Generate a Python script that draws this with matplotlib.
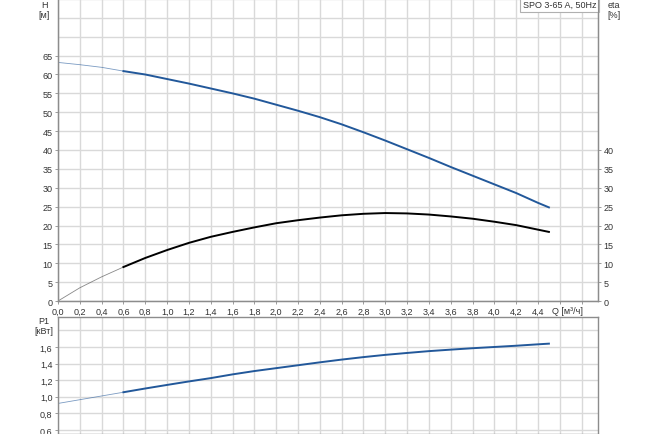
import numpy as np
import matplotlib
matplotlib.use('Agg')
import matplotlib.pyplot as plt

plt.rcParams['font.family'] = ['Liberation Sans', 'DejaVu Sans']

# ============================================================
# Data (Q in m3/h)
# ============================================================
q = [0.0, 0.2, 0.4, 0.6, 0.8, 1.0, 1.2, 1.4, 1.6, 1.8, 2.0, 2.2,
     2.4, 2.6, 2.8, 3.0, 3.2, 3.4, 3.6, 3.8, 4.0, 4.2, 4.4, 4.5]
head = [63.2, 62.6, 61.9, 60.9, 60.0, 58.8, 57.6, 56.3, 55.0, 53.6, 52.0, 50.4,
        48.7, 46.8, 44.7, 42.5, 40.2, 37.9, 35.5, 33.2, 30.9, 28.6, 26.0, 24.8]
eta = [0.0, 3.5, 6.4, 9.0, 11.4, 13.5, 15.4, 17.0, 18.3, 19.5, 20.6, 21.4,
       22.1, 22.7, 23.1, 23.3, 23.2, 22.9, 22.4, 21.8, 21.0, 20.1, 18.9, 18.3]
p1 = [0.92, 0.965, 1.01, 1.055, 1.10, 1.143, 1.185, 1.225, 1.27, 1.31, 1.345, 1.38,
      1.415, 1.448, 1.478, 1.505, 1.528, 1.55, 1.568, 1.585, 1.60, 1.615, 1.632, 1.64]
q_min = 0.6  # start of the recommended (thick) part of each curve

title = "SPO 3-65 A, 50Hz"
q_ticks = np.arange(0, 4.81, 0.2)
h_ticks = np.arange(0, 66, 5)
h_grid_extra = [70, 75, 80]
eta_ticks = np.arange(0, 41, 5)
p_ticks = np.arange(0.6, 1.61, 0.2)
p_grid_extra = [1.8]

BLUE = '#22589a'
GRID = '#d9d9d9'
SPINE = '#8c8c8c'
TXT = '#333333'
FS = 6.5


def comma(v):
    return f"{v:.1f}".replace('.', ',')


def split(x, y):
    x = np.array(x)
    y = np.array(y)
    thin = x <= q_min + 1e-9
    thick = x >= q_min - 1e-9
    return (x[thin], y[thin]), (x[thick], y[thick])


fig = plt.figure(figsize=(6.5, 4.35), dpi=100)
W, H = 650, 435
ax = fig.add_axes([58 / W, (H - 302) / H, 540 / W, 302 / H])
axp = fig.add_axes([58 / W, 0, 540 / W, (H - 318) / H])

for a in (ax, axp):
    a.set_xlim(0, 4.95)
    a.set_xticks(q_ticks)
    a.grid(True, which='both', color=GRID, linewidth=1.0)
    a.set_axisbelow(True)
    for s in a.spines.values():
        s.set_color(SPINE)
        s.set_linewidth(1.0)
    a.tick_params(labelsize=FS, colors=TXT, length=2, width=0.6,
                  color=SPINE, pad=2)
    a.tick_params(which='minor', length=0)

# top panel: head + efficiency
ax.set_ylim(0, 80)
ax.set_yticks(h_ticks)
ax.set_yticks(h_grid_extra, minor=True)
ax.set_yticklabels([str(int(v)) for v in h_ticks])
ax.set_xticklabels([comma(v) if v <= 4.41 else '' for v in q_ticks])
ax.spines['top'].set_visible(False)

(tx, ty), (kx, ky) = split(q, head)
ax.plot(tx, ty, color=BLUE, lw=0.6, alpha=0.6)
ax.plot(kx, ky, color=BLUE, lw=1.4, solid_joinstyle='round')

(tx, ty), (kx, ky) = split(q, eta)
ax.plot(tx, ty, color='#555555', lw=0.6, alpha=0.7)
ax.plot(kx, ky, color='black', lw=1.4, solid_joinstyle='round')

ax2 = ax.twinx()
ax2.set_ylim(0, 80)
ax2.set_yticks(eta_ticks)
ax2.set_yticklabels([str(int(v)) for v in eta_ticks])
ax2.tick_params(labelsize=FS, colors=TXT, length=2, width=0.6,
                color=SPINE, pad=2)
for s in ax2.spines.values():
    s.set_color(SPINE)
ax2.spines['top'].set_visible(False)

ax.text(0.997, 0.997, title, transform=ax.transAxes, ha='right', va='top',
        fontsize=FS, color=TXT,
        bbox=dict(boxstyle='square,pad=0.3', fc='white', ec='#b0b0b0', lw=0.8))

fig.text(44 / W, 1 - 5 / H, "H", fontsize=FS, ha='center', va='center', color=TXT)
fig.text(44 / W, 1 - 15 / H, "[м]", fontsize=FS, ha='center', va='center', color=TXT)
fig.text(614 / W, 1 - 5 / H, "eta", fontsize=FS, ha='center', va='center', color=TXT)
fig.text(614 / W, 1 - 15 / H, "[%]", fontsize=FS, ha='center', va='center', color=TXT)
fig.text(568 / W, 1 - 312 / H, "Q [м³/ч]", fontsize=FS, ha='center', va='center', color=TXT)

# bottom panel: power
axp.set_ylim(0.552, 1.961)
axp.set_yticks(p_ticks)
axp.set_yticks(p_grid_extra, minor=True)
axp.set_yticklabels([comma(v) for v in p_ticks])
axp.set_xticklabels([])
axp.tick_params(axis='x', length=0)

(tx, ty), (kx, ky) = split(q, p1)
axp.plot(tx, ty, color=BLUE, lw=0.6, alpha=0.6)
axp.plot(kx, ky, color=BLUE, lw=1.4, solid_joinstyle='round')

fig.text(44 / W, 1 - 322 / H, "P1", fontsize=FS, ha='center', va='center', color=TXT)
fig.text(44 / W, 1 - 332 / H, "[кВт]", fontsize=FS, ha='center', va='center', color=TXT)

plt.savefig('out.png', dpi=100)
plt.close()
